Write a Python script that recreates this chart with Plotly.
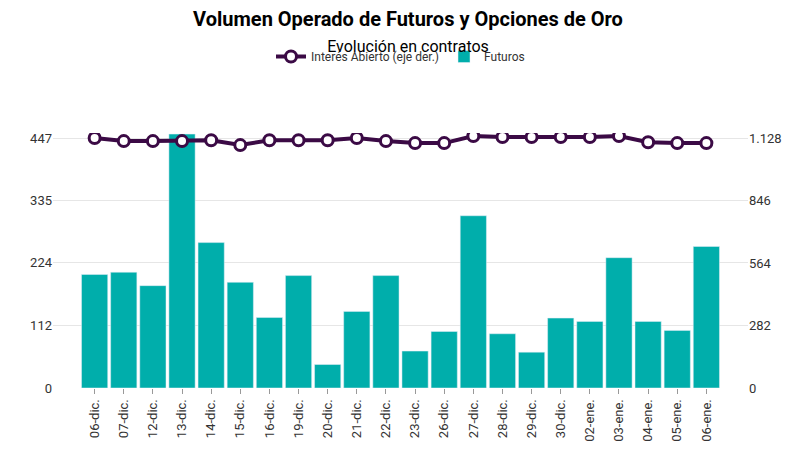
import plotly.graph_objects as go

fechas = ["06-dic.", "07-dic.", "12-dic.", "13-dic.", "14-dic.", "15-dic.", "16-dic.",
          "19-dic.", "20-dic.", "21-dic.", "22-dic.", "23-dic.", "26-dic.", "27-dic.",
          "28-dic.", "29-dic.", "30-dic.", "02-ene.", "03-ene.", "04-ene.", "05-ene.", "06-ene."]
futuros = [203, 207, 183, 454, 260, 189, 126, 201, 42, 137, 201, 66, 101, 308,
           97, 64, 125, 119, 233, 119, 103, 253]
interes_abierto = [1128, 1114, 1114, 1114, 1118, 1096, 1118, 1118, 1118, 1128, 1114,
                   1105, 1105, 1137, 1132, 1132, 1132, 1132, 1137, 1109, 1105, 1105]

izq_ticks = [0, 112, 224, 335, 447]
der_ticks = [0, 282, 564, 846, 1128]
der_text = ["0", "282", "564", "846", "1.128"]

fig = go.Figure()
fig.add_trace(go.Scatter(
    x=fechas, y=interes_abierto, name="Interés Abierto (eje der.)", yaxis="y2",
    mode="lines+markers",
    line=dict(color="#3b0a45", width=4),
    marker=dict(size=11, color="white", line=dict(color="#3b0a45", width=3))))
fig.add_trace(go.Bar(x=fechas, y=futuros, name="Futuros", marker_color="#00aeab"))

fig.update_layout(
    width=800, height=457,
    margin=dict(l=45, r=60, t=125, b=77),
    plot_bgcolor="white", paper_bgcolor="white",
    font=dict(family="Roboto, Arial", color="#333333", size=13),
    title=dict(text="<b>Volumen Operado de Futuros y Opciones de Oro</b><br>"
                    "<span style='font-size:16px'>Evolución en contratos</span>",
               x=0.5, y=0.96, xanchor="center", font=dict(size=20, color="black")),
    legend=dict(orientation="h", x=0.5, xanchor="center", y=1.3, yanchor="middle",
                font=dict(size=12), traceorder="normal"),
    bargap=0.1,
    xaxis=dict(tickangle=-90, showgrid=False, ticks="outside", ticklen=5,
               tickcolor="#999", tickfont=dict(size=13)),
    yaxis=dict(range=[0, 447 * 1.02], tickvals=izq_ticks, showgrid=True,
               gridcolor="#e6e6e6", zeroline=False),
    yaxis2=dict(range=[0, 1128 * 1.02], tickvals=der_ticks, ticktext=der_text,
                overlaying="y", side="right", showgrid=False, zeroline=False),
)
fig.write_html("out.html")
